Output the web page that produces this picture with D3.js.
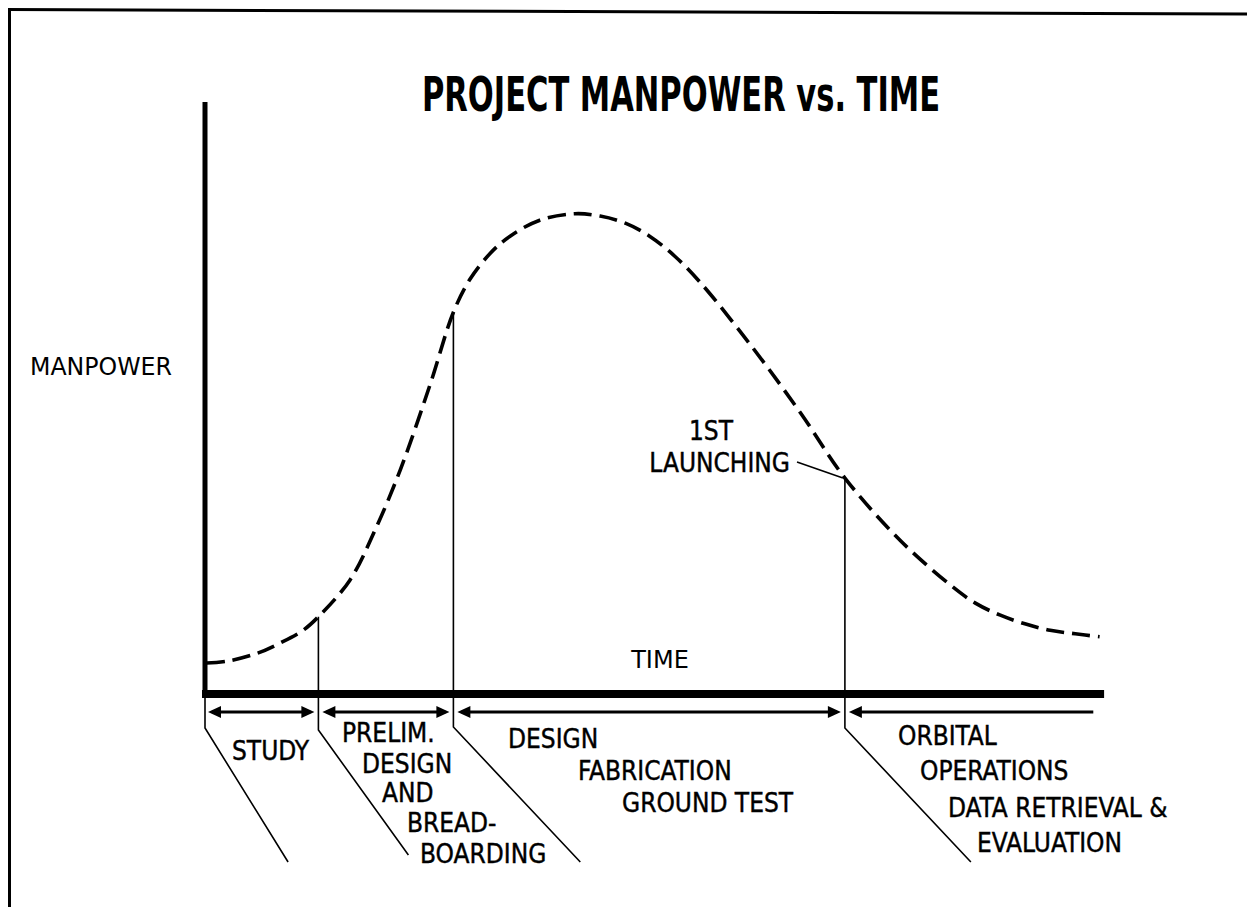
<!DOCTYPE html>
<html>
<head>
<meta charset="utf-8">
<script src="https://cdn.jsdelivr.net/npm/d3@7"></script>
<style>
  html, body { margin: 0; padding: 0; background: #fff; }
  svg { display: block; }
  text { fill: #000; }
</style>
</head>
<body>
<div id="chart"></div>
<script>
// ---------------- DATA ----------------
const title = "PROJECT MANPOWER vs. TIME";
const yAxisLabel = "MANPOWER";
const xAxisLabel = "TIME";

// manpower curve (time 0..100, manpower 0..100, arbitrary units)
const curveTime = [0.2, 2.6, 5.8, 8.3, 10.9, 12.6, 16.1, 18.9, 21.7, 25.0, 27.6, 29.4, 31.7, 33.9, 37.2, 41.1, 43.9, 46.7, 49.4, 52.2, 55.0, 60.6, 66.1, 71.1, 77.2, 82.8, 85.6, 88.3, 91.1, 93.9, 96.7, 99.4];
const curveManpower = [5.25, 5.6, 6.9, 8.6, 10.8, 13.1, 19.3, 27.8, 38.0, 52.4, 64.7, 70.2, 74.7, 77.6, 80.3, 81.4, 81.0, 79.8, 77.6, 74.2, 69.8, 59.2, 47.8, 36.6, 26.1, 18.5, 15.4, 13.4, 11.9, 10.8, 10.2, 9.7];

// project phases
const phaseNames = ["STUDY", "PRELIM. DESIGN AND BREADBOARDING", "DESIGN FABRICATION GROUND TEST", "ORBITAL OPERATIONS DATA RETRIEVAL & EVALUATION"];
const phaseStart = [0, 12.6, 27.6, 71.1];
const phaseEnd = [12.6, 27.6, 71.1, 98.7];
const phaseLabelLines = [
  ["STUDY"],
  ["PRELIM.", "DESIGN", "AND", "BREAD-", "BOARDING"],
  ["DESIGN", "FABRICATION", "GROUND TEST"],
  ["ORBITAL", "OPERATIONS", "DATA RETRIEVAL &", "EVALUATION"]
];
// milestones (boundaries between phases) drawn up to the curve
const milestoneTime = [12.6, 27.6, 71.1];
const milestoneManpower = [13.1, 64.7, 36.6];
const launchLabelLines = ["1ST", "LAUNCHING"];

// ---------------- LAYOUT ----------------
const W = 1247, H = 907;
const svg = d3.select("#chart").append("svg").attr("width", W).attr("height", H);

const x = d3.scaleLinear().domain([0, 100]).range([205, 1105]);
const y = d3.scaleLinear().domain([0, 100]).range([694, 104]);

// frame (scanned page edge)
svg.append("line").attr("x1", 8).attr("y1", 9.5).attr("x2", W).attr("y2", 14)
  .attr("stroke", "#000").attr("stroke-width", 3);
svg.append("line").attr("x1", 9.5).attr("y1", 8).attr("x2", 9.5).attr("y2", H)
  .attr("stroke", "#000").attr("stroke-width", 3);

// title
svg.append("text")
  .attr("x", 422).attr("y", 111)
  .attr("textLength", 518).attr("lengthAdjust", "spacingAndGlyphs")
  .style("font-family", "'DejaVu Sans Condensed', 'DejaVu Sans', sans-serif")
  .style("font-weight", "bold").style("font-size", "48px")
  .text(title);

// axis labels
svg.append("text").attr("x", 30).attr("y", 375)
  .style("font-family", "'DejaVu Sans', sans-serif").style("font-size", "24px")
  .attr("textLength", 142).attr("lengthAdjust", "spacingAndGlyphs")
  .text(yAxisLabel);
svg.append("text").attr("x", 660).attr("y", 668).attr("text-anchor", "middle")
  .style("font-family", "'DejaVu Sans', sans-serif").style("font-size", "24px")
  .text(xAxisLabel);

// milestone verticals (from curve down below the axis) and slanted leaders
const belowY = [728, 730, 727, 728];
const leaderSlope = [0.62, 0.72, 0.94, 0.94];
const leaderEndY = [862, 855, 862, 862];
const boundaries = [0].concat(milestoneTime);
const boundaryTop = [null].concat(milestoneManpower);
boundaries.forEach((t, i) => {
  const bx = x(t);
  const topY = i === 0 ? y(0) : y(boundaryTop[i]);
  const ex = bx + leaderSlope[i] * (leaderEndY[i] - belowY[i]);
  svg.append("path")
    .attr("d", `M${bx},${topY} L${bx},${belowY[i]} L${ex},${leaderEndY[i]}`)
    .attr("fill", "none").attr("stroke", "#000").attr("stroke-width", 1.6);
});

// axes
svg.append("line").attr("x1", x(0)).attr("x2", x(0)).attr("y1", 102).attr("y2", 698)
  .attr("stroke", "#000").attr("stroke-width", 5);
svg.append("line").attr("x1", x(0) - 3).attr("x2", x(99.9)).attr("y1", y(0)).attr("y2", y(0))
  .attr("stroke", "#000").attr("stroke-width", 8);

// manpower curve
const pts = curveTime.map((t, i) => [t, curveManpower[i]]);
const line = d3.line().x(d => x(d[0])).y(d => y(d[1])).curve(d3.curveCatmullRom.alpha(0.5));
svg.append("path").datum(pts).attr("d", line)
  .attr("fill", "none").attr("stroke", "#000").attr("stroke-width", 3.6)
  .attr("stroke-dasharray", "18,8");

// phase arrows
const arrowY = 712, headL = 13, headH = 6;
function head(xTip, dir) {
  return `M${xTip},${arrowY} L${xTip - dir * headL},${arrowY - headH} L${xTip - dir * headL},${arrowY + headH} Z`;
}
phaseStart.forEach((s, i) => {
  const x1 = x(s) + (i === 0 ? 3 : 4);
  const x2 = i === 3 ? x(phaseEnd[i]) : x(phaseEnd[i]) - 4;
  svg.append("line").attr("x1", x1 + 4).attr("x2", i === 3 ? x2 : x2 - 4)
    .attr("y1", arrowY).attr("y2", arrowY).attr("stroke", "#000").attr("stroke-width", 3);
  svg.append("path").attr("d", head(x1, -1)).attr("fill", "#000");
  if (i !== 3) svg.append("path").attr("d", head(x2, 1)).attr("fill", "#000");
});

// phase labels
const labelFont = "'DejaVu Sans Condensed', 'DejaVu Sans', sans-serif";
const labelPos = [
  [[232, 760]],
  [[342, 742], [362, 773], [382, 802], [407, 832], [420, 863]],
  [[508, 748], [578, 780], [622, 812]],
  [[898, 745], [920, 780], [948, 817], [977, 852]]
];
phaseLabelLines.forEach((lines, i) => {
  lines.forEach((txt, j) => {
    svg.append("text").attr("x", labelPos[i][j][0]).attr("y", labelPos[i][j][1])
      .style("font-family", labelFont).style("font-size", "26px")
      .style("stroke", "#000").style("stroke-width", 0.4)
      .text(txt);
  });
});

// 1st launching annotation
const launchT = milestoneTime[2], launchM = milestoneManpower[2];
svg.append("text").attr("x", 733).attr("y", 440).attr("text-anchor", "end")
  .style("font-family", labelFont).style("font-size", "26px")
  .style("stroke", "#000").style("stroke-width", 0.4).text(launchLabelLines[0]);
svg.append("text").attr("x", 790).attr("y", 472).attr("text-anchor", "end")
  .style("font-family", labelFont).style("font-size", "26px")
  .style("stroke", "#000").style("stroke-width", 0.4).text(launchLabelLines[1]);
svg.append("line").attr("x1", 797).attr("y1", 462).attr("x2", x(launchT) - 2).attr("y2", y(launchM))
  .attr("stroke", "#000").attr("stroke-width", 1.6);
</script>
</body>
</html>
